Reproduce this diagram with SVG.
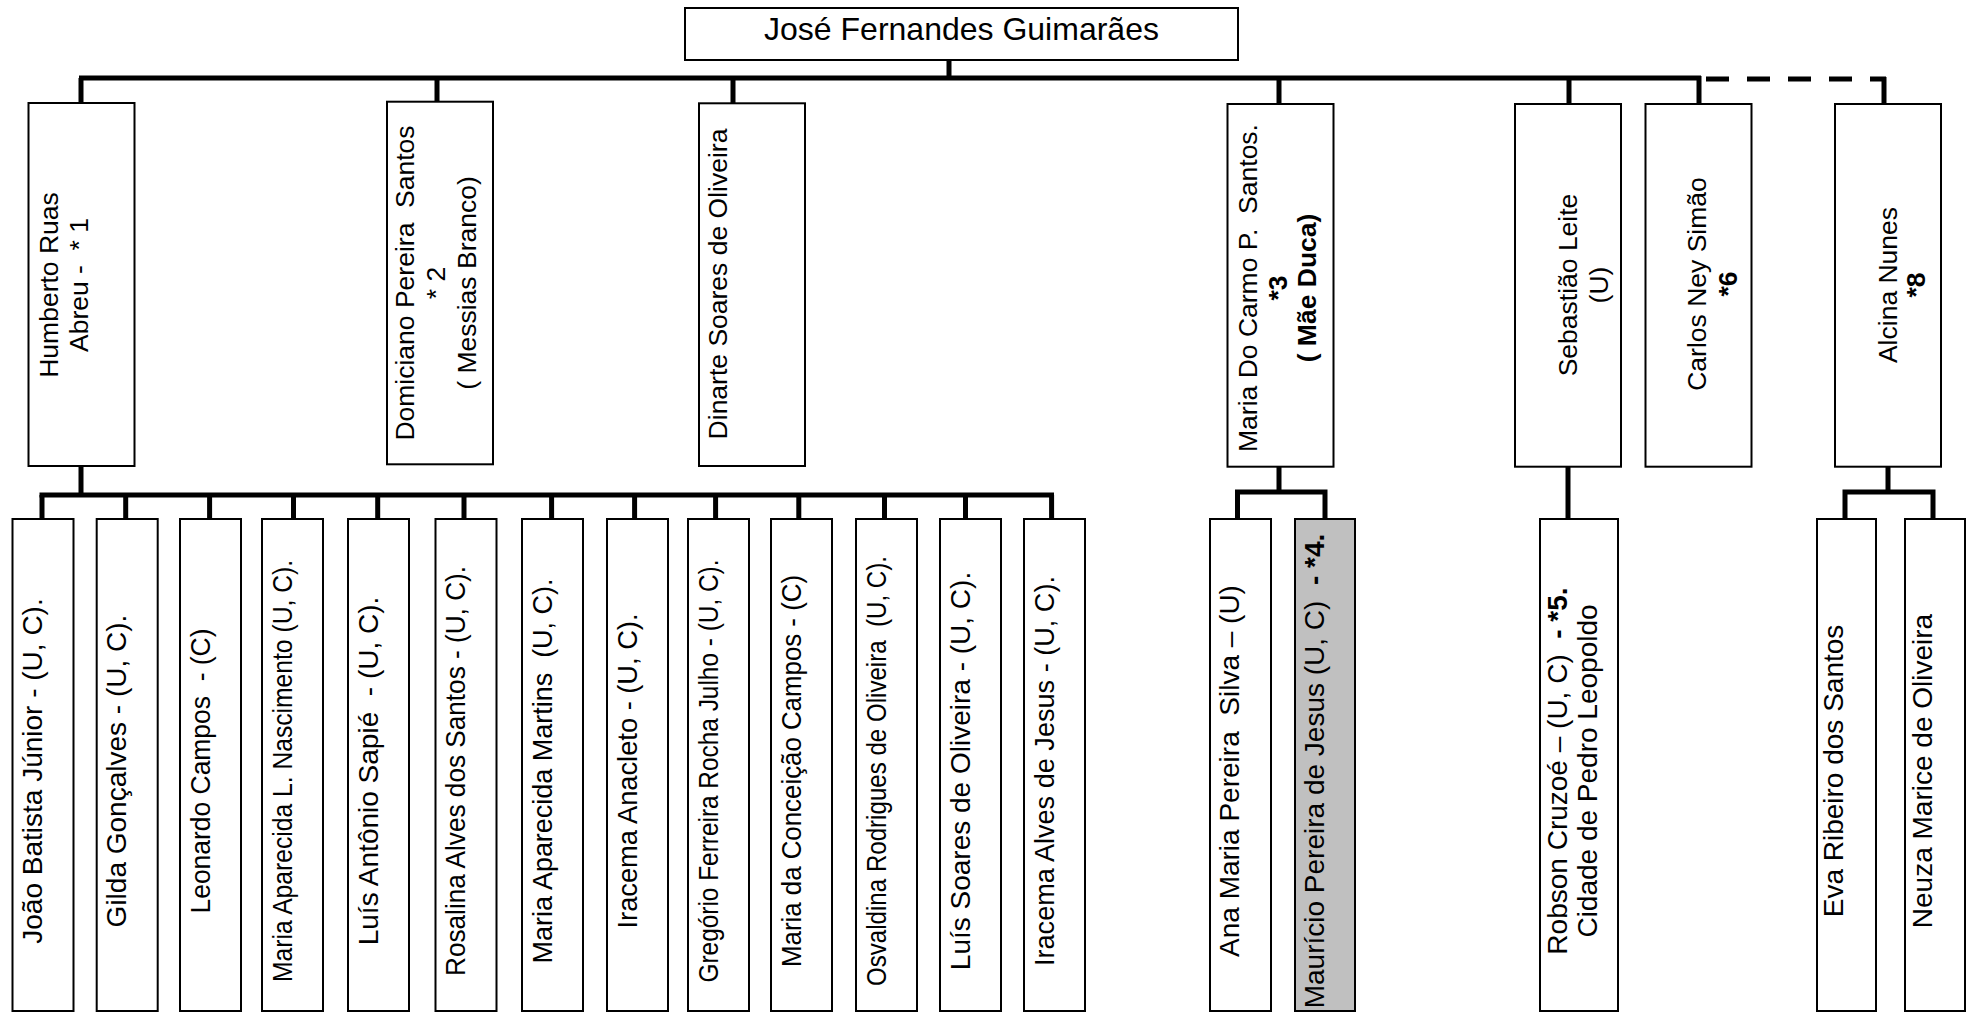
<svg xmlns="http://www.w3.org/2000/svg" width="1970" height="1014" viewBox="0 0 1970 1014">
<style>
.box{fill:#fff;stroke:#000;stroke-width:2}
.gray{fill:#c0c0c0}
.t{font-family:"Liberation Sans",Arial,sans-serif;fill:#000;text-anchor:middle}
.l1{font-size:26.5px}
.l2{font-size:28px}
.root{font-size:32px}
.b{font-weight:bold}
.c{stroke:#000;stroke-width:5;fill:none;stroke-linecap:butt}
.d{stroke:#000;stroke-width:5;fill:none;stroke-dasharray:23 18}
</style>
<rect width="1970" height="1014" fill="#fff"/>
<g id="connectors">
<path class="c" d="M949,60V78M79,78H1701"/>
<path class="d" d="M1706,79H1886"/>
<path class="c" d="M81,78V103M437,78V101.7M733,78V103M1279,78V104M1569,78V103M1699,76V103M1884,77V103"/>
<path class="c" d="M81,466V495M39.5,495H1054"/>
<path class="c" d="M42,495V519M125.7,495V519M209.6,495V519M293.5,495V519M377.7,495V519M464,495V519M551.6,495V519M634.6,495V519M715.6,495V519M798.8,495V519M884.5,495V519M965.5,495V519M1051.6,495V519"/>
<path class="c" d="M1279,466V492M1235,492H1327.5M1237.5,490V519M1325,490V519"/>
<path class="c" d="M1568,466V519"/>
<path class="c" d="M1888,466V492M1842.5,492H1935.5M1845,490V519M1933,490V519"/>
</g>
<g id="root">
<rect class="box" x="685" y="8" width="553" height="52"/>
<text class="t root" x="961.5" y="39.5">José Fernandes Guimarães</text>
</g>
<g id="humberto">
<rect class="box" x="28.5" y="103" width="106" height="363"/>
<text class="t l1" transform="rotate(-90)" xml:space="preserve"><tspan x="-285" y="58">Humberto Ruas</tspan><tspan x="-285" y="88">Abreu -  * 1</tspan></text>
</g>
<g id="domiciano">
<rect class="box" x="387" y="101.7" width="106" height="362.6"/>
<text class="t l1" transform="rotate(-90)" xml:space="preserve"><tspan x="-283" y="414">Domiciano Pereira  Santos</tspan><tspan x="-283" y="445">* 2</tspan><tspan x="-283" y="476">( Messias Branco)</tspan></text>
</g>
<g id="dinarte">
<rect class="box" x="699" y="103.3" width="106" height="362.7"/>
<text class="t l1" transform="rotate(-90)" x="-284" y="727">Dinarte Soares de Oliveira</text>
</g>
<g id="maria-carmo">
<rect class="box" x="1227.5" y="104" width="106" height="362.7"/>
<text class="t l1" transform="rotate(-90)" xml:space="preserve"><tspan x="-288" y="1257">Maria Do Carmo P.  Santos.</tspan><tspan class="b" x="-288" y="1287">*3</tspan><tspan class="b" x="-288" y="1316">( Mãe Duca)</tspan></text>
</g>
<g id="sebastiao">
<rect class="box" x="1515" y="104" width="106" height="362.7"/>
<text class="t l1" transform="rotate(-90)"><tspan x="-285" y="1577">Sebastião Leite</tspan><tspan x="-285" y="1608">(U)</tspan></text>
</g>
<g id="carlos">
<rect class="box" x="1645.5" y="104" width="106" height="362.7"/>
<text class="t l1" transform="rotate(-90)"><tspan x="-284" y="1706">Carlos Ney Simão</tspan><tspan class="b" x="-284" y="1737">*6</tspan></text>
</g>
<g id="alcina">
<rect class="box" x="1835" y="104" width="106" height="362.7"/>
<text class="t l1" transform="rotate(-90)"><tspan x="-285" y="1897">Alcina Nunes</tspan><tspan class="b" x="-285" y="1925">*8</tspan></text>
</g>
<g id="c1"><rect class="box" x="12.5" y="519" width="61" height="492"/><text class="t l2" transform="rotate(-90)" x="-771" y="42">João Batista Júnior - (U, C).</text></g>
<g id="c2"><rect class="box" x="96.7" y="519" width="61" height="492"/><text class="t l2" transform="rotate(-90)" x="-771" y="126">Gilda Gonçalves - (U, C).</text></g>
<g id="c3"><rect class="box" x="180" y="519" width="61" height="492"/><text class="t l2" transform="rotate(-90)" x="-771" y="209.5" xml:space="preserve" textLength="285" lengthAdjust="spacingAndGlyphs">Leonardo Campos  - (C)</text></g>
<g id="c4"><rect class="box" x="262" y="519" width="61" height="492"/><text class="t l2" transform="rotate(-90)" x="-771" y="291.5" textLength="422" lengthAdjust="spacingAndGlyphs">Maria Aparecida L. Nascimento (U, C).</text></g>
<g id="c5"><rect class="box" x="348" y="519" width="61" height="492"/><text class="t l2" transform="rotate(-90)" x="-771" y="377.5" xml:space="preserve">Luís Antônio Sapié  - (U, C).</text></g>
<g id="c6"><rect class="box" x="435.5" y="519" width="61" height="492"/><text class="t l2" transform="rotate(-90)" x="-771" y="465" textLength="410" lengthAdjust="spacingAndGlyphs">Rosalina Alves dos Santos - (U, C).</text></g>
<g id="c7"><rect class="box" x="522" y="519" width="61" height="492"/><text class="t l2" transform="rotate(-90)" x="-771" y="551.5" xml:space="preserve" textLength="385" lengthAdjust="spacingAndGlyphs">Maria Aparecida Martins  (U, C).</text></g>
<g id="c8"><rect class="box" x="607" y="519" width="61" height="492"/><text class="t l2" transform="rotate(-90)" x="-771" y="636.5" textLength="315" lengthAdjust="spacingAndGlyphs">Iracema Anacleto - (U, C).</text></g>
<g id="c9"><rect class="box" x="688" y="519" width="61" height="492"/><text class="t l2" transform="rotate(-90)" x="-771" y="717.5" textLength="423" lengthAdjust="spacingAndGlyphs">Gregório Ferreira Rocha Julho - (U, C).</text></g>
<g id="c10"><rect class="box" x="771" y="519" width="61" height="492"/><text class="t l2" transform="rotate(-90)" x="-771" y="800.5" textLength="392" lengthAdjust="spacingAndGlyphs">Maria da Conceição Campos - (C)</text></g>
<g id="c11"><rect class="box" x="856" y="519" width="61" height="492"/><text class="t l2" transform="rotate(-90)" x="-771" y="885.5" xml:space="preserve" textLength="430" lengthAdjust="spacingAndGlyphs">Osvaldina Rodrigues de Oliveira  (U, C).</text></g>
<g id="c12"><rect class="box" x="940" y="519" width="61" height="492"/><text class="t l2" transform="rotate(-90)" x="-771" y="969.5">Luís Soares de Oliveira - (U, C).</text></g>
<g id="c13"><rect class="box" x="1024" y="519" width="61" height="492"/><text class="t l2" transform="rotate(-90)" x="-771" y="1053.5" textLength="390" lengthAdjust="spacingAndGlyphs">Iracema Alves de Jesus - (U, C).</text></g>
<g id="ana"><rect class="box" x="1210" y="519" width="61" height="492"/><text class="t l2" transform="rotate(-90)" x="-771" y="1238.5" xml:space="preserve">Ana Maria Pereira  Silva – (U)</text></g>
<g id="mauricio"><rect class="box gray" x="1295" y="519" width="60" height="492"/><text class="t l2" transform="rotate(-90)" x="-771" y="1324" xml:space="preserve">Maurício Pereira de Jesus (U, C)  <tspan class="b">- *4.</tspan></text></g>
<g id="robson"><rect class="box" x="1540" y="519" width="78" height="492"/><text class="t l2" transform="rotate(-90)" xml:space="preserve"><tspan x="-771" y="1567">Robson Cruzoé – (U, C)  <tspan class="b">- *5.</tspan></tspan><tspan x="-771" y="1597">Cidade de Pedro Leopoldo</tspan></text></g>
<g id="eva"><rect class="box" x="1817" y="519" width="59" height="492"/><text class="t l2" transform="rotate(-90)" x="-771" y="1843">Eva Ribeiro dos Santos</text></g>
<g id="neuza"><rect class="box" x="1905" y="519" width="60" height="492"/><text class="t l2" transform="rotate(-90)" x="-771" y="1932">Neuza Marice de Oliveira</text></g>
</svg>
